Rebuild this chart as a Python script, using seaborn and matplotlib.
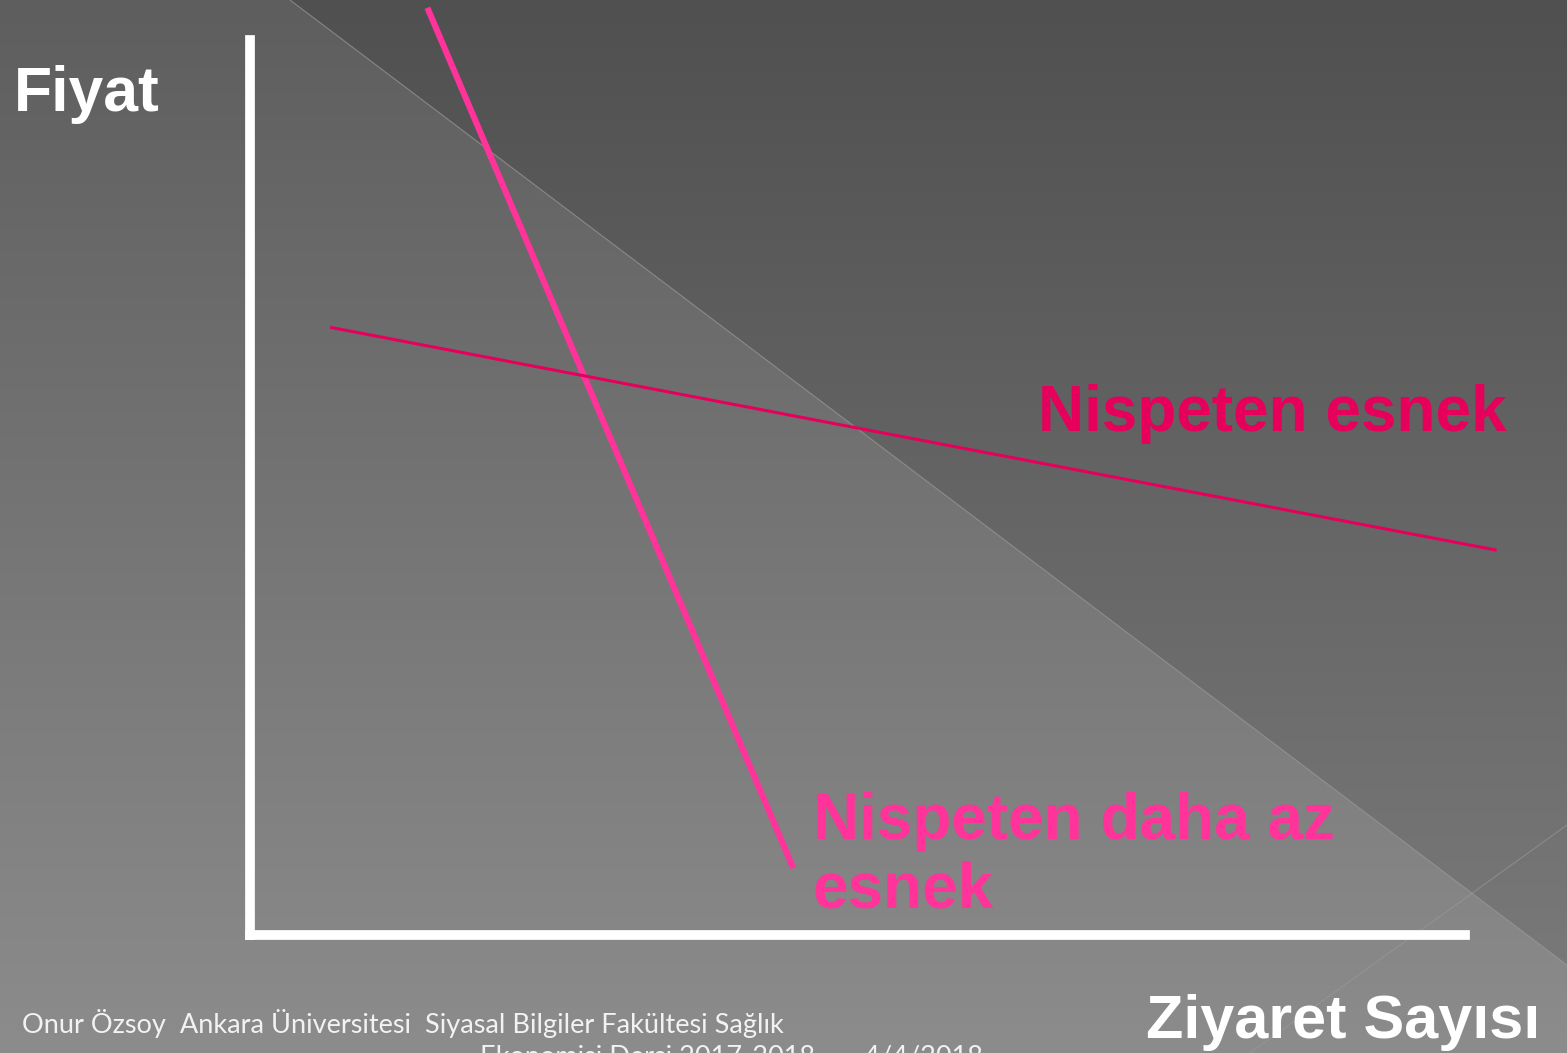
import numpy as np
import matplotlib
matplotlib.use("Agg")
import matplotlib.pyplot as plt
import seaborn as sns

# ---------------------------------------------------------
# data: two demand curves (quantity, price) in axis units 0-100
# ---------------------------------------------------------
az_esnek_q = [14.6, 44.7]
az_esnek_p = [103.6, 7.5]
esnek_q = [6.6, 102.6]
esnek_p = [67.9, 43.0]

y_label = "Fiyat"
x_label = "Ziyaret Sayısı"
label_esnek = "Nispeten esnek"
label_az_esnek = "Nispeten daha az\nesnek"
footer_1 = "Onur Özsoy  Ankara Üniversitesi  Siyasal Bilgiler Fakültesi Sağlık"
footer_2 = "Ekonomisi Dersi 2017-2018       4/4/2018"

W, H = 1567, 1053
sns.set_style("white")
plt.rcParams['font.family'] = ['Liberation Sans', 'DejaVu Sans']

fig = plt.figure(figsize=(W / 100, H / 100), dpi=100)

# background: gray gradient with a lighter lower-left triangle
bg = fig.add_axes([0, 0, 1, 1])
yy, xx = np.mgrid[0:H, 0:W]
lower = (yy - (xx - 290) * 965 / 1277) > 0
shade = np.where(lower, 0x5e + yy / H * (0x8c - 0x5e), 0x50 + yy / H * (0x7c - 0x50))
shade = shade / 255.0
bg.imshow(np.dstack([shade, shade, shade]), extent=[0, W, H, 0], aspect='auto')
bg.plot([290, 1567], [0, 965], color='#9a9a9a', lw=0.8, alpha=0.7)
bg.plot([1250, 1567], [1053, 825], color='#9a9a9a', lw=0.8, alpha=0.6)
bg.set_xlim(0, W)
bg.set_ylim(H, 0)
bg.axis('off')

# main axes: white L-shaped axes
ax = fig.add_axes([250 / W, (H - 935) / H, 1215 / W, 895 / H])
ax.patch.set_alpha(0)
ax.set_xlim(0, 100)
ax.set_ylim(0, 100)
for side in ['top', 'right']:
    ax.spines[side].set_visible(False)
for side in ['left', 'bottom']:
    ax.spines[side].set_color('white')
    ax.spines[side].set_linewidth(7)
    ax.spines[side].set_capstyle('projecting')
ax.set_xticks([])
ax.set_yticks([])

sns.lineplot(x=az_esnek_q, y=az_esnek_p, ax=ax, color='#ff3399', lw=4.4,
             clip_on=False, solid_capstyle='butt')
sns.lineplot(x=esnek_q, y=esnek_p, ax=ax, color='#e6005c', lw=2.2,
             clip_on=False, solid_capstyle='butt')

# labels
fig.text(14 / W, 1 - 111 / H, y_label, color='white', fontsize=45, fontweight='bold',
         ha='left', va='baseline')
fig.text(1540 / W, 1 - 1038 / H, x_label, color='white', fontsize=44, fontweight='bold',
         ha='right', va='baseline')
fig.text(1038 / W, 1 - 431 / H, label_esnek, color='#e6005c', fontsize=46, fontweight='bold',
         ha='left', va='baseline')
fig.text(813 / W, 1 - 907 / H, label_az_esnek, color='#ff3399', fontsize=46, fontweight='bold',
         ha='left', va='baseline', linespacing=1.18)

# footer
fig.text(22 / W, 1 - 1033 / H, footer_1, color='#f2f2f2', fontsize=19.5,
         family=['Lato', 'DejaVu Sans'], ha='left', va='baseline')
fig.text(480 / W, 1 - 1064 / H, footer_2, color='#f2f2f2', fontsize=19.5,
         family=['Lato', 'DejaVu Sans'], ha='left', va='baseline')

fig.savefig("out.png", dpi=100)
